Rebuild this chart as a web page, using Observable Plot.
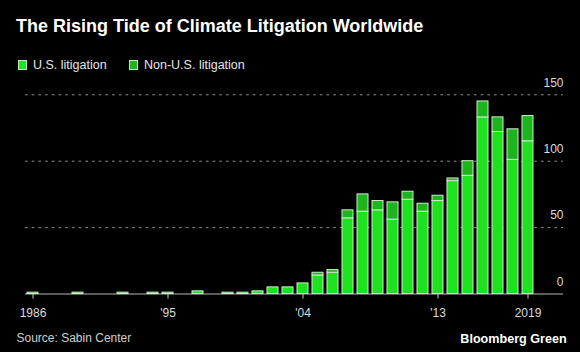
<!DOCTYPE html>
<html><head><meta charset="utf-8">
<script src="https://cdn.jsdelivr.net/npm/d3@7"></script>
<script src="https://cdn.jsdelivr.net/npm/@observablehq/plot@0.6"></script>
<style>
html,body{margin:0;padding:0;background:#000;width:580px;height:352px;overflow:hidden;font-family:"Liberation Sans",Arial,sans-serif;}
.abs{position:absolute;white-space:nowrap;}
#title{left:16px;top:17px;color:#fff;font-weight:bold;font-size:18px;line-height:18px;}
.sw{position:absolute;top:59.5px;width:9px;height:10px;box-sizing:border-box;border:1px solid #bfe8bf;}
.lt{top:59.4px;color:#e6e6e6;font-size:12.5px;line-height:12.5px;}
#chart{position:absolute;left:0;top:74px;}
#source{left:16.5px;top:332px;color:#cfcfcf;font-size:12px;line-height:12px;}
#brand{right:13.3px;top:333.3px;color:#fff;font-weight:bold;font-size:12.6px;line-height:12.6px;}
</style></head><body>
<div id="title" class="abs">The Rising Tide of Climate Litigation Worldwide</div>
<div class="sw" id="sw1" style="left:18px"></div>
<div class="abs lt" style="left:33px">U.S. litigation</div>
<div class="sw" id="sw2" style="left:129px"></div>
<div class="abs lt" style="left:144px">Non-U.S. litigation</div>
<div id="chart"></div>
<div id="source" class="abs">Source: Sabin Center</div>
<div id="brand" class="abs">Bloomberg Green</div>
<script>
const years = d3.range(1986, 2020);
const usValues = [1,0,0,1,0,0,1,0,1,1,0,2,0,1,1,2,5,5,8,14,16,57,62,63,56,71,62,70,85,89,133,122,101,115];
const nonUsValues = [0,0,0,0,0,0,0,0,0,0,0,0,0,0,0,0,0,0,0,2,2,6,13,7,13,6,6,4,2,11,12,11,23,19];
const seriesNames = ["U.S. litigation", "Non-U.S. litigation"];
const seriesColors = ["#1fe21f", "#1cb51c"];
const yTicks = [0, 50, 100, 150];
const xTicks = [1986, 1995, 2004, 2013, 2019];
const xTickLabels = ["1986", "'95", "'04", "'13", "2019"];

document.getElementById("sw1").style.background = seriesColors[0];
document.getElementById("sw2").style.background = seriesColors[1];

const rows = [];
years.forEach((y, i) => {
  rows.push({year: y, type: seriesNames[0], value: usValues[i]});
  rows.push({year: y, type: seriesNames[1], value: nonUsValues[i]});
});

const chart = Plot.plot({
  width: 580,
  height: 252,
  marginLeft: 25,
  marginRight: 17,
  marginTop: 20.3,
  marginBottom: 32.5,
  style: {background: "transparent", fontFamily: "Liberation Sans, Arial, sans-serif"},
  x: {type: "band", domain: years, range: [21.1, 538.9], padding: 0.27},
  y: {domain: [0, 150]},
  color: {domain: seriesNames, range: seriesColors},
  marks: [
    Plot.ruleY(yTicks.filter(d => d > 0), {stroke: "#8a8a8a", strokeDasharray: "2.7,4", strokeWidth: 1}),
    Plot.ruleY([0], {stroke: "#b8b8b8", strokeWidth: 1.2}),
    Plot.barY(rows.filter(d => d.value > 0), {x: "year", y: "value", fill: "type", stroke: "#cdebcd", strokeWidth: 1, order: seriesNames}),
    Plot.axisX({ticks: xTicks, tickFormat: d => xTickLabels[xTicks.indexOf(d)], tickSize: 5, tickPadding: 9, stroke: "#c8c8c8", color: "#dcdcdc", fontSize: 12, label: null}),
    Plot.text(yTicks, {y: d => d, text: d => String(d), frameAnchor: "right", textAnchor: "end", dy: -12, fill: "#dcdcdc", fontSize: 12})
  ]
});
document.getElementById("chart").appendChild(chart);
</script>
</body></html>
